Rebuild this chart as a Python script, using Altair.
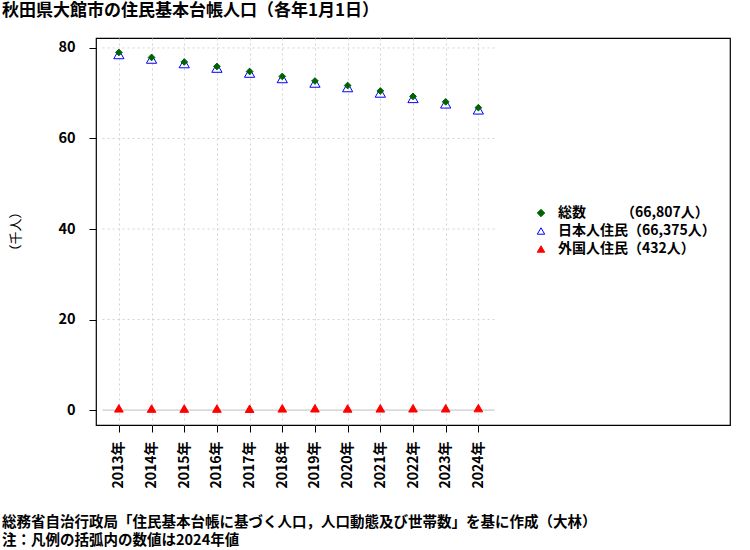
import altair as alt
import pandas as pd

FONT = "Noto Sans CJK JP"

years = list(range(2013, 2025))
total = [79.0, 77.9, 76.9, 75.9, 74.8, 73.7, 72.7, 71.7, 70.5, 69.3, 68.1, 66.807]
japanese = [78.6, 77.6, 76.6, 75.6, 74.5, 73.3, 72.3, 71.3, 70.1, 68.9, 67.7, 66.375]
foreign = [0.38, 0.33, 0.33, 0.33, 0.30, 0.38, 0.40, 0.36, 0.38, 0.40, 0.40, 0.432]

legend_labels = ["総数　　　（66,807人）", "日本人住民（66,375人）", "外国人住民（432人）"]
series_colors = ["#006400", "#0000FF", "#FF0000"]
series_fills = ["#006400", "transparent", "#FF0000"]
series_shapes = ["diamond", "triangle-up", "triangle-up"]

y_ticks = [0, 20, 40, 60, 80]
grid_levels = [20, 40, 60, 80]

title_text = "秋田県大館市の住民基本台帳人口（各年1月1日）"
footer_lines = [
    "総務省自治行政局「住民基本台帳に基づく人口，人口動態及び世帯数」を基に作成（大林）",
    "注：凡例の括弧内の数値は2024年値",
]

rows = []
for lab, vals in zip(legend_labels, [total, japanese, foreign]):
    for yr, v in zip(years, vals):
        rows.append({"year": yr, "value": v, "series": lab})
df = pd.DataFrame(rows)

grid_df = pd.DataFrame({"level": grid_levels,
                        "x0": [min(years) - 0.5] * len(grid_levels),
                        "x1": [max(years) + 0.5] * len(grid_levels)})
zero_df = pd.DataFrame({"level": [0], "x0": [min(years) - 0.5], "x1": [max(years) + 0.5]})

W, H = 634, 387
xs = alt.Scale(domain=[2012.3, 2031.7], nice=False, zero=False)
ys = alt.Scale(domain=[-3.3, 82.2], nice=False, zero=False)

x_axis = alt.Axis(values=years, labelExpr="datum.value + '年'", labelAngle=270,
                  tickSize=7, tickColor="black", domain=False, grid=True,
                  gridDash=[2, 3], gridColor="#D3D3D3", title=None,
                  labelFont=FONT, labelFontSize=14, labelFontWeight="bold",
                  labelColor="black", labelPadding=9)
y_axis = alt.Axis(values=y_ticks, tickSize=7, tickColor="black", domain=False, grid=False,
                  labelFont=FONT, labelFontSize=14.5, labelFontWeight="bold",
                  labelColor="black", labelPadding=14,
                  title="（千人）", titleFont=FONT, titleFontSize=13, titleFontWeight="normal",
                  titleColor="black", titleAngle=270, titleX=-81, titleY=193,
                  titleAlign="center", titleBaseline="middle")

legend = alt.Legend(title=None, orient="none", legendX=438, legendY=168,
                    labelFont=FONT, labelFontSize=14, labelFontWeight="bold",
                    labelColor="black", symbolSize=55, symbolStrokeWidth=1,
                    rowPadding=4, labelOffset=10, padding=0, symbolOffset=0)

hgrid = alt.Chart(grid_df).mark_rule(color="#D3D3D3", strokeDash=[2, 3], strokeWidth=1).encode(
    x=alt.X("x0:Q", scale=xs, axis=x_axis),
    x2="x1:Q",
    y=alt.Y("level:Q", scale=ys, axis=y_axis),
)
zline = alt.Chart(zero_df).mark_rule(color="#BEBEBE", strokeWidth=1).encode(
    x=alt.X("x0:Q", scale=xs), x2="x1:Q", y=alt.Y("level:Q", scale=ys))

def pts(lab, size):
    return alt.Chart(df).transform_filter(alt.datum.series == lab).mark_point(
        filled=False, strokeWidth=1, opacity=1, size=size).encode(
        x=alt.X("year:Q", scale=xs),
        y=alt.Y("value:Q", scale=ys),
        shape=alt.Shape("series:N", scale=alt.Scale(domain=legend_labels, range=series_shapes), legend=legend),
        stroke=alt.Stroke("series:N", scale=alt.Scale(domain=legend_labels, range=series_colors), legend=legend),
        fill=alt.Fill("series:N", scale=alt.Scale(domain=legend_labels, range=series_fills), legend=legend),
    )

def text_at(txt, x, y, size, weight="bold"):
    return alt.Chart(pd.DataFrame({"t": [txt]})).mark_text(
        align="left", baseline="middle", font=FONT, fontSize=size, fontWeight=weight, color="black"
    ).encode(text="t:N", x=alt.value(x), y=alt.value(y))

title = text_at(title_text, -94, -27, 17)
foot1 = text_at(footer_lines[0], -94, H + 98, 14.5)
foot2 = text_at(footer_lines[1], -94, H + 116, 14.5)

chart = alt.layer(
    hgrid, zline,
    pts(legend_labels[1], 105), pts(legend_labels[0], 45), pts(legend_labels[2], 75),
    title, foot1, foot2,
).properties(
    width=W, height=H,
    autosize=alt.AutoSizeParams(type="none"),
    padding={"left": 96, "top": 38, "right": 20, "bottom": 125},
    background="white",
).configure_view(stroke="black", strokeWidth=1.2)

chart.save("out.html", embed_options={"renderer": "svg", "actions": False})
